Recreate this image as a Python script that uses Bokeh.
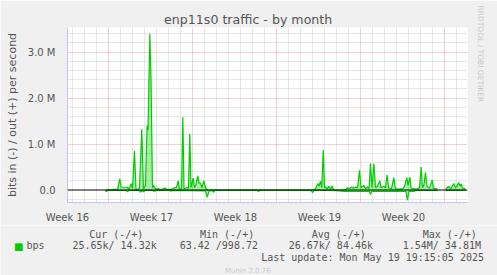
import math
from bokeh.plotting import figure
from bokeh.layouts import column
from bokeh.models import (Range1d, FixedTicker, Grid, Span, Label, Title,
                          ColumnDataSource)
from bokeh.embed import file_html
from bokeh.resources import INLINE

NaN = float("nan")

# ---------------- data (days from left edge of graph, values in Mbit/s) ----
out_days = [3.17, 3.75, 4.17, 4.36, 4.46, 5.00, 5.13, 5.31, 5.42, 5.58, 5.71, 5.83,
            6.00, 6.19, 6.33, 6.50, 6.63, 6.71, 6.86, 6.96, 7.08, 7.17, 7.33, 7.58,
            7.75, 8.08, 8.33, 8.67, 8.92, 9.08, 9.22, 9.33, 9.50, 9.61, 9.71, 9.92,
            10.08, 10.19, 10.29, 10.48, 10.58, 10.71, 10.86, 10.96, 11.08, 11.21,
            11.36, 11.50, 11.67, 12.08, 15.92, 20.50, 20.67, 20.86, 20.96, 21.08,
            21.19, 21.31, 21.42, 21.50, 21.63, 21.78, 21.92, 22.06, 22.17, 23.17,
            23.33, 23.50, 23.67, 23.83, 24.00, 24.17, 24.33, 24.46, 24.69, 24.83,
            25.00, 25.13, 25.25, 25.38, 25.53, 25.67, 25.83, 26.03, 26.13, 26.36,
            26.50, 26.63, 26.75, 27.00, 27.19, 27.33, 27.58, 27.92, 28.08, 28.28,
            28.38, 28.53, 28.63, 28.83, 29.17, 29.33, 29.47, 29.58, 29.71, 29.83,
            29.96, 30.17, 30.39, 30.50, 30.83, 30.90, 31.50, 31.78, 31.92, 32.19,
            32.33, 32.61, 32.71, 32.81, 32.92, 33.17]
out_mbps = [0.00, 0.01, 0.02, 0.24, 0.06, 0.06, 0.02, 0.14, 0.03, 0.85, 0.02, 0.00,
            0.05, 1.32, 0.02, 0.10, 1.40, 1.30, 3.39, 2.40, 0.05, 0.10, 0.02, 0.03,
            0.00, 0.04, 0.01, 0.02, 0.05, 0.05, 0.20, 0.02, 0.03, 1.58, 0.02, 0.05,
            0.04, 1.22, 0.05, 0.26, 0.05, 0.12, 0.31, 0.15, 0.15, 0.05,
            0.20, 0.05, 0.00, 0.00, 0.00, 0.00, 0.03, 0.14, 0.08, 0.19,
            0.05, 0.87, 0.05, 0.07, 0.02, 0.08, 0.02, 0.09, 0.00, 0.00,
            0.05, 0.03, 0.06, 0.04, 0.06, 0.05, 0.43, 0.05, 0.10, 0.03,
            0.07, 0.03, 0.58, 0.05, 0.57, 0.05, 0.08, 0.20, 0.05, 0.08,
            0.05, 0.33, 0.05, 0.03, 0.27, 0.03, 0.02, 0.03, 0.08, 0.27,
            0.10, 0.28, 0.05, 0.02, 0.03, 0.05, 0.50, 0.05, 0.12, 0.38,
            0.08, 0.04, 0.22, 0.04, 0.02, NaN, 0.02, 0.08, 0.02, 0.14,
            0.04, 0.16, 0.08, 0.13, 0.04, 0.02]

in_days = [3.17, 3.22, 3.35, 4.90, 5.00, 5.10, 6.00, 6.08, 6.20, 6.35, 6.45, 7.10,
           7.20, 7.40, 8.50, 8.60, 8.70, 11.50, 11.64, 11.80, 12.10, 12.17, 12.30,
           15.85, 15.92, 16.00, 20.30, 20.42, 20.55, 22.10, 23.10, 25.17, 25.25,
           25.35, 28.20, 28.33, 28.45, 28.90, 29.00, 30.83, 30.90, 31.50, 33.17]
in_mbps = [-0.01, -0.04, -0.01, -0.01, -0.04, -0.01, -0.01, -0.05, -0.01, -0.04, -0.01, -0.01,
           -0.03, -0.01, -0.01, -0.03, -0.01, -0.02, -0.16, -0.02, -0.02, -0.05, -0.01,
           -0.01, -0.04, -0.01, -0.01, -0.06, -0.01, -0.01, -0.03, -0.03, -0.10,
           -0.03, -0.03, -0.22, -0.03, -0.03, -0.01, -0.01, NaN, -0.01, -0.01]

week_ticks = [0, 7, 14, 21, 28]
week_labels = ["Week 16", "Week 17", "Week 18", "Week 19", "Week 20"]
y_ticks = [0, 1, 2, 3]
y_labels = ["0.0", "1.0 M", "2.0 M", "3.0 M"]

title_text = "enp11s0 traffic - by month"
ylabel_text = "bits in (-) / out (+) per second"
legend_name = "bps"
legend_heads = ["Cur (-/+)", "Min (-/+)", "Avg (-/+)", "Max (-/+)"]
legend_vals = ["25.65k/ 14.32k", "63.42 /998.72", "26.67k/ 84.46k", "1.54M/ 34.81M"]
last_update = "Last update: Mon May 19 19:15:05 2025"
munin_ver = "Munin 2.0.76"
rrd_mark = "RRDTOOL / TOBI OETIKER"

# ---------------- geometry ------------------------------------------------
W, H = 497, 275
FL, FR, FT, FB = 67, 467, 27, 202          # frame edges in px
MAIN_H = 222                               # height of graph part
PX_DAY = 12.0
ZERO_PX, PX_M = 189.5, 46.0
X_MAX = (FR - FL) / PX_DAY
Y_TOP = (ZERO_PX - FT) / PX_M
Y_BOT = (ZERO_PX - FB) / PX_M

GREEN = "#00cc00"
TXT = "#555555"
AX = "#c4c8f0"
BG = "#f0f0f0"

p = figure(frame_width=FR - FL, frame_height=FB - FT, output_backend="svg",
           toolbar_location=None,
           x_range=Range1d(0, X_MAX), y_range=Range1d(Y_BOT, Y_TOP),
           min_border_left=FL, min_border_right=W - FR,
           min_border_top=FT, min_border_bottom=MAIN_H - FB,
           background_fill_color="white", border_fill_color=BG,
           outline_line_color=None)
p.frame_align = False
for g in p.grid:
    g.visible = False

p.title = Title(text=title_text, align="left", offset=96.6,
                text_font="DejaVu Sans", text_font_size="12.6px",
                text_font_style="normal", text_color=TXT, standoff=2)
p.add_layout(Title(text=rrd_mark, align="left", offset=-22, text_font="DejaVu Sans",
                   text_font_size="7.5px", text_font_style="normal",
                   text_color="#c8c8c8", standoff=16), "right")

# grids
minor_x = [0.44 + k for k in range(33) if (k - 3) % 7 != 0]
major_x = [3.44 + 7 * k for k in range(5)]
minor_y = [round(-0.2 + 0.2 * k, 2) for k in range(19)]
minor_y = [v for v in minor_y if abs(v - round(v)) > 1e-6]
major_y = [1, 2, 3]
for dim, ticks, col in [(0, minor_x, "#cfcfcf"), (1, minor_y, "#cfcfcf"),
                        (0, major_x, "#e8a0a0"), (1, major_y, "#e8a0a0")]:
    p.add_layout(Grid(dimension=dim, ticker=FixedTicker(ticks=ticks),
                      grid_line_color=col, grid_line_dash="1 1", grid_line_width=1))

# axes
p.xaxis.ticker = FixedTicker(ticks=week_ticks)
p.xaxis.major_label_overrides = {t: l for t, l in zip(week_ticks, week_labels)}
p.yaxis.ticker = FixedTicker(ticks=y_ticks)
p.yaxis.major_label_overrides = {t: l for t, l in zip(y_ticks, y_labels)}
for ax in (p.xaxis, p.yaxis):
    ax.axis_line_color = AX
    ax.major_tick_line_color = None
    ax.minor_tick_line_color = None
    ax.major_label_text_font = "DejaVu Sans"
    ax.major_label_text_font_size = "10px"
    ax.major_label_text_color = TXT
p.xaxis.major_label_standoff = 3
p.yaxis.major_label_standoff = 6
p.yaxis.axis_label = ylabel_text
p.yaxis.axis_label_text_font = "DejaVu Sans"
p.yaxis.axis_label_text_font_size = "11px"
p.yaxis.axis_label_text_font_style = "normal"
p.yaxis.axis_label_text_color = TXT
p.yaxis.axis_label_standoff = 6


# data
def segments(xs, ys):
    segs, cx, cy = [], [], []
    for x, y in zip(xs, ys):
        if math.isnan(y):
            if cx:
                segs.append((cx, cy))
            cx, cy = [], []
        else:
            cx.append(x)
            cy.append(y)
    if cx:
        segs.append((cx, cy))
    return segs


for xs, ys in [(out_days, out_mbps), (in_days, in_mbps)]:
    for sx, sy in segments(xs, ys):
        src = ColumnDataSource(dict(x=sx, y=sy, z=[0] * len(sx)))
        p.varea(x="x", y1="z", y2="y", source=src, fill_color=GREEN, fill_alpha=0.35)
        p.line(x="x", y="y", source=src, line_color=GREEN, line_width=1.2)

p.add_layout(Span(location=0, dimension="width", line_color="black", line_width=1))

# ---------------- legend strip below the graph ----------------------------
LH = H - MAIN_H
leg = figure(width=W, height=LH, output_backend="svg", toolbar_location=None,
             x_range=Range1d(0, W), y_range=Range1d(LH, 0),
             x_axis_location=None, y_axis_location=None, min_border=0,
             background_fill_color=BG, border_fill_color=BG,
             outline_line_color=None)
leg.frame_align = False
leg.grid.visible = False


def label(px, py, text, font="DejaVu Sans Mono", size="10px", color=TXT,
          align="left", baseline="alphabetic"):
    leg.add_layout(Label(x=px, y=py - MAIN_H, text=text, text_font=font,
                         text_font_size=size, text_color=color,
                         text_align=align, text_baseline=baseline))


head_x = [88.7, 199.5, 311.2, 422.2]
val_x = [71.9, 179.2, 288.2, 402.2]
for hx, ht in zip(head_x, legend_heads):
    label(hx, 230.7, ht)
for vx, vt in zip(val_x, legend_vals):
    label(vx, 242.3, vt)
label(13.5, 243, "\u25a0", font="DejaVu Sans", size="10px", color=GREEN)
label(26, 242.3, legend_name)
label(260.7, 254.3, last_update)
label(247.3, 267.6, munin_ver, font="DejaVu Sans", size="7px", color="#c8c8c8",
      align="center")

open("out.html", "w").write(file_html(column(p, leg, spacing=0), INLINE))
